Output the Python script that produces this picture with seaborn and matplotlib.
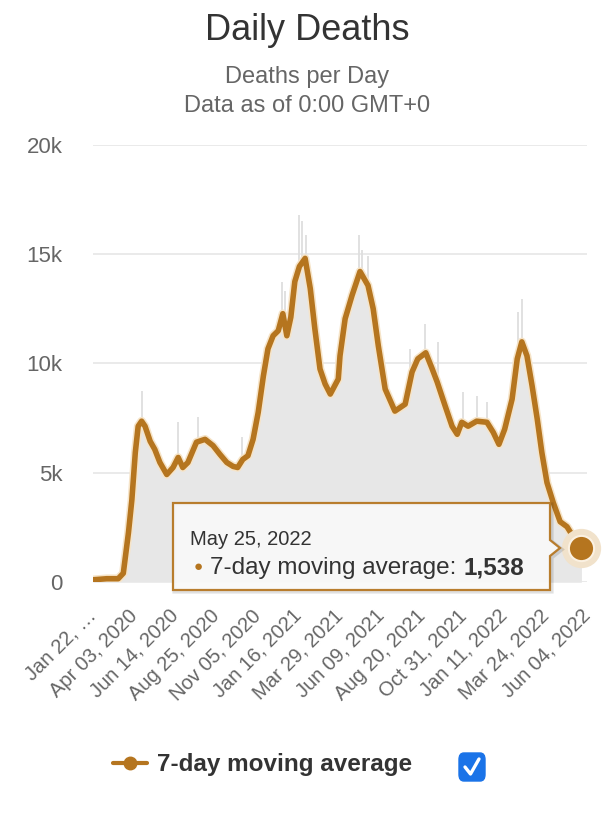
import matplotlib
matplotlib.use("Agg")
import matplotlib.pyplot as plt
import matplotlib.patheffects as pe
from matplotlib.patches import Polygon, FancyBboxPatch
from matplotlib.lines import Line2D
import seaborn as sns
import pandas as pd

# 7-day moving average
avg_dates = ["2020-01-22", "2020-02-15", "2020-03-06", "2020-03-15", "2020-03-24",
             "2020-03-30", "2020-04-05", "2020-04-10", "2020-04-16", "2020-04-22",
             "2020-05-01", "2020-05-09", "2020-05-18", "2020-05-30", "2020-06-10",
             "2020-06-19", "2020-06-27", "2020-07-06", "2020-07-21", "2020-08-05",
             "2020-08-19", "2020-08-31", "2020-09-12", "2020-09-23", "2020-10-01",
             "2020-10-10", "2020-10-19", "2020-10-28", "2020-11-06", "2020-11-15",
             "2020-11-23", "2020-12-02", "2020-12-11", "2020-12-19", "2020-12-26",
             "2021-01-02", "2021-01-09", "2021-01-17", "2021-01-27", "2021-02-05",
             "2021-02-13", "2021-02-22", "2021-03-03", "2021-03-12", "2021-03-26",
             "2021-03-29", "2021-04-07", "2021-04-19", "2021-05-03", "2021-05-17",
             "2021-05-26", "2021-06-04", "2021-06-16", "2021-07-03", "2021-07-21",
             "2021-08-02", "2021-08-12", "2021-08-26", "2021-09-06", "2021-09-15",
             "2021-09-29", "2021-10-11", "2021-10-20", "2021-10-28", "2021-11-08",
             "2021-11-23", "2021-12-11", "2021-12-22", "2022-01-01", "2022-01-11",
             "2022-01-24", "2022-02-02", "2022-02-10", "2022-02-19", "2022-02-28",
             "2022-03-09", "2022-03-17", "2022-03-26", "2022-04-06", "2022-04-18",
             "2022-04-30", "2022-05-11", "2022-05-25"]
avg_values = [100, 150, 150, 400, 2250,
              3770, 5930, 7130, 7360, 7130,
              6440, 6070, 5470, 4920, 5240,
              5700, 5240, 5470, 6400, 6530,
              6240, 5840, 5470, 5290, 5240,
              5610, 5780, 6530, 7770, 9430,
              10670, 11270, 11500, 12280, 11270,
              12120, 13750, 14440, 14810, 13430,
              11590, 9750, 9060, 8600, 9290,
              10350, 12050, 13110, 14210, 13570,
              12510, 10810, 8830, 7820, 8140,
              9610, 10210, 10490, 9770, 9150,
              8050, 7130, 6760, 7310, 7130,
              7360, 7310, 6850, 6300, 6990,
              8370, 10210, 10990, 10350, 8970,
              7450, 5930, 4550, 3630, 2760,
              2530, 2070, 1538]

# daily spikes visible in the grey columns
spike_dates = ["2020-04-16", "2020-06-19", "2020-07-24", "2020-10-09", "2020-12-17",
               "2020-12-22", "2021-01-17", "2021-01-22", "2021-01-28", "2021-05-01",
               "2021-05-06", "2021-05-17", "2021-07-30", "2021-08-25", "2021-09-17",
               "2021-10-30", "2021-11-23", "2021-12-11", "2022-02-03", "2022-02-10"]
spike_values = [8740, 7310, 7540, 6620, 13750,
                13300, 16790, 16500, 15900, 15870,
                15200, 14900, 10670, 11820, 10990,
                8690, 8530, 8220, 12360, 12970]

tick_dates = ["2020-01-22", "2020-04-03", "2020-06-14", "2020-08-25", "2020-11-05",
              "2021-01-16", "2021-03-29", "2021-06-09", "2021-08-20", "2021-10-31",
              "2022-01-11", "2022-03-24", "2022-06-04"]
tick_labels = ["Jan 22, \u2026", "Apr 03, 2020", "Jun 14, 2020", "Aug 25, 2020",
               "Nov 05, 2020", "Jan 16, 2021", "Mar 29, 2021", "Jun 09, 2021",
               "Aug 20, 2021", "Oct 31, 2021", "Jan 11, 2022", "Mar 24, 2022",
               "Jun 04, 2022"]
y_ticks = [0, 5000, 10000, 15000, 20000]
y_labels = ["0", "5k", "10k", "15k", "20k"]

df = pd.DataFrame({"date": pd.to_datetime(avg_dates), "avg": avg_values})

sns.set_theme(style="whitegrid")
plt.rcParams["font.family"] = ["Liberation Sans", "DejaVu Sans"]

W, H = 607, 827
LINE = "#b5751f"
FILL = "#e7e7e7"
fig = plt.figure(figsize=(W / 100, H / 100), dpi=100)
ax = fig.add_axes([93 / W, 1 - 582 / H, 494 / W, 437 / H])


def px(x, y):
    return (x / W, 1 - y / H)


ax.fill_between(df["date"], 0, df["avg"], color=FILL, lw=0, zorder=1)
ax.vlines(pd.to_datetime(spike_dates), 0, spike_values, color="#dedede", lw=1.3, zorder=1)
ax.fill_between(df["date"], 0, df["avg"], color=FILL, lw=0, zorder=1.5)
sns.lineplot(data=df, x="date", y="avg", ax=ax, color=LINE, lw=4, zorder=3,
             path_effects=[pe.Stroke(linewidth=6.2, foreground="#f6e4c8"), pe.Normal()])

last = df.iloc[-1]
ax.scatter([last["date"]], [last["avg"]], s=800, color="#f1e2cb", zorder=4, clip_on=False, lw=0)
ax.scatter([last["date"]], [last["avg"]], s=330, color=LINE, zorder=5, clip_on=False,
           edgecolor="#fbf1e2", lw=1.5)

ax.set_xlim(pd.Timestamp("2020-01-22"), pd.Timestamp("2022-06-04"))
ax.set_ylim(0, 20000)
ax.set_yticks(y_ticks)
ax.set_yticklabels(y_labels, fontsize=16, color="#666666")
ax.set_xticks(pd.to_datetime(tick_dates))
ax.set_xticklabels(tick_labels, rotation=45, ha="right", va="center",
                   rotation_mode="anchor", fontsize=14.5, color="#666666")
ax.tick_params(axis="x", pad=22, length=0)
ax.tick_params(axis="y", pad=22, length=0)
ax.grid(axis="x", visible=False)
ax.grid(axis="y", color="#e6e6e6", lw=1.2)
ax.set_xlabel("")
ax.set_ylabel("")
sns.despine(ax=ax, left=True, bottom=True)

# titles
fig.text(*px(307, 31), "Daily Deaths", ha="center", va="center", fontsize=26, color="#333333")
fig.text(*px(307, 77), "Deaths per Day", ha="center", va="center", fontsize=17, color="#666666")
fig.text(*px(307, 106), "Data as of 0:00 GMT+0", ha="center", va="center", fontsize=17,
         color="#666666")

# tooltip
tip = [px(173, 503), px(550, 503), px(550, 540), px(560, 548), px(550, 556),
       px(550, 590), px(173, 590)]
shadow = [(x + 1.5 / W, y - 1.5 / H) for x, y in tip]
fig.patches.append(Polygon(shadow, closed=True, transform=fig.transFigure, fc="none",
                           ec="#000000", alpha=0.12, lw=3, zorder=6))
fig.patches.append(Polygon(tip, closed=True, transform=fig.transFigure, fc="#f9f9f9",
                           ec=LINE, lw=1.6, alpha=0.93, zorder=7))
fig.text(*px(190, 545), "May 25, 2022", ha="left", va="baseline", fontsize=14.5,
         color="#333333", zorder=8)
fig.text(*px(198, 567), "\u25cf", ha="center", va="center", fontsize=11, color=LINE, zorder=8)
lab = fig.text(*px(210, 574), "7-day moving average: ", ha="left", va="baseline",
               fontsize=17.5, color="#333333", zorder=8)
renderer = fig.canvas.get_renderer()
bb = lab.get_window_extent(renderer=renderer)
fig.text(bb.x1 / W, 1 - 574 / H, f"{avg_values[-1]:,}", ha="left", va="baseline",
         fontsize=17.5, fontweight="bold", color="#333333", zorder=8)

# legend
fig.lines.append(Line2D([113 / W, 147 / W], [1 - 763 / H] * 2, transform=fig.transFigure,
                        color=LINE, lw=3))
fig.lines.append(Line2D([130 / W], [1 - 763 / H], transform=fig.transFigure, color=LINE,
                        marker="o", markersize=9))
fig.text(*px(157, 764), "7-day moving average", ha="left", va="center", fontsize=17.5,
         fontweight="bold", color="#333333")
fig.patches.append(FancyBboxPatch(px(459, 781), 26 / W, 28 / H,
                                  boxstyle="round,pad=0,rounding_size=0.008",
                                  transform=fig.transFigure, fc="#1a73e8", ec="#1a73e8"))
fig.lines.append(Line2D([465 / W, 470.5 / W, 479 / W],
                        [1 - 767 / H, 1 - 774 / H, 1 - 759 / H],
                        transform=fig.transFigure, color="white", lw=2.4,
                        solid_capstyle="round", solid_joinstyle="round"))

fig.savefig("out.png", dpi=100, facecolor="white")
